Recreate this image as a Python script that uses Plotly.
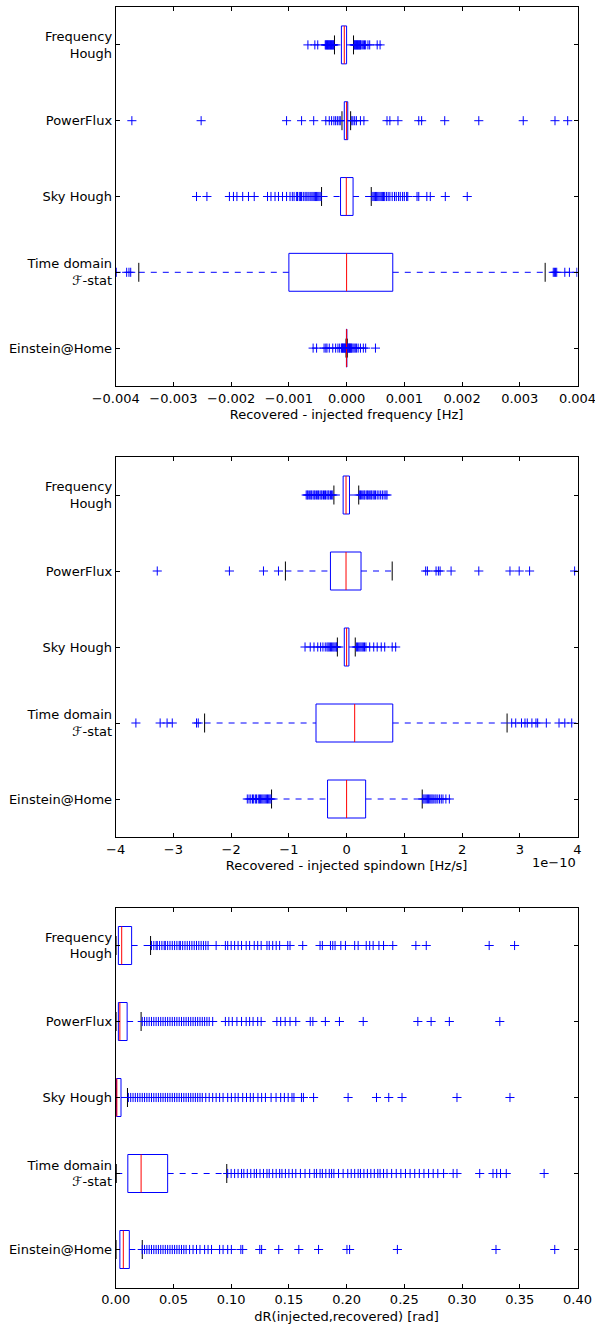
import plotly.graph_objects as go

# ---------------- data ----------------
methods = ["Frequency<br>Hough", "PowerFlux", "Sky Hough", "Time domain<br>\u2131-stat", "Einstein@Home"]

# Panel 1: recovered - injected frequency [Hz]
freq_q1 = [-0.00009, -0.00004, -0.000105, -0.0010, -0.000003]
freq_med = [-0.00004, 0.0, -0.000005, 0.0, 0.0]
freq_q3 = [0.0, 0.00002, 0.000112, 0.0008, 0.000004]
freq_lo = [-0.00021, -0.00008, -0.000434, -0.0036, -0.00001]
freq_hi = [0.00012, 0.00007, 0.000427, 0.00344, 0.000011]
freq_out_fh = [-0.00067, -0.00055, -0.00050, -0.00037, -0.00036, -0.00035, -0.00034, -0.00033, -0.00032,
               -0.00031, -0.00030, -0.00029, -0.00028, -0.00027, -0.00026, -0.00025, -0.00024, -0.00023,
               -0.00022, 0.00013, 0.00014, 0.00015, 0.00016, 0.00017, 0.00018, 0.00019, 0.00020, 0.00021,
               0.00022, 0.00023, 0.00024, 0.00025, 0.00027, 0.00029, 0.00031, 0.00033, 0.00037, 0.00040,
               0.00053, 0.00058]
freq_out_pf = [-0.00372, -0.00252, -0.00104, -0.00078, -0.00057, -0.00036, -0.00030, -0.00026, -0.00022,
               -0.00019, -0.00016, -0.00013, -0.00011, 0.00009, 0.00011, 0.00014, 0.00017, 0.00024, 0.00030,
               0.00070, 0.00075, 0.00089, 0.00125, 0.00130, 0.00170, 0.00229, 0.00306, 0.00361, 0.00383]
freq_out_sh = [-0.00260, -0.00242, -0.00203, -0.00196, -0.00190, -0.00180, -0.00170, -0.00160, -0.00137,
               -0.00131, -0.00124, -0.00118, -0.00111, -0.00104, -0.00098, -0.00094, -0.00091, -0.00087,
               -0.00085, -0.00082, -0.00080, -0.00078, -0.00075, -0.00072, -0.00070, -0.00067, -0.00065,
               -0.00062, -0.00060, -0.00058, -0.00056, -0.00054, -0.00052, -0.00050, -0.00048, -0.00046,
               -0.00044, 0.00044, 0.00046, 0.00048, 0.00050, 0.00052, 0.00054, 0.00056, 0.00058, 0.00060,
               0.00062, 0.00064, 0.00066, 0.00069, 0.00072, 0.00075, 0.00079, 0.00083, 0.00086, 0.00090,
               0.00093, 0.00097, 0.00100, 0.00104, 0.00106, 0.00122, 0.00125, 0.00139, 0.00145, 0.00171,
               0.00209]
freq_out_td = [-0.00399, -0.00381, -0.00377, -0.00374, 0.00358, 0.00360, 0.00362, 0.00364, 0.00378,
               0.00386, 0.00399]
freq_out_eah = [-0.00058, -0.00052, -0.00039, -0.00036, -0.00034, -0.00030, -0.00024, -0.00019, -0.00015,
                -0.00012, -0.00009, -0.00008, -0.00007, -0.00006, -0.00005, -0.00004, -0.00003, -0.00002,
                0.00002, 0.00003, 0.00004, 0.00005, 0.00006, 0.00007, 0.00008, 0.00009, 0.00011, 0.00013,
                0.00015, 0.00017, 0.00020, 0.00024, 0.00029, 0.00033, 0.00050]

# Panel 2: recovered - injected spindown [Hz/s], in units of 1e-10
sd_q1 = [-0.06, -0.28, -0.04, -0.53, -0.33]
sd_med = [-0.01, -0.01, 0.0, 0.14, 0.0]
sd_q3 = [0.05, 0.25, 0.04, 0.80, 0.33]
sd_lo = [-0.22, -1.06, -0.16, -2.46, -1.30]
sd_hi = [0.21, 0.79, 0.15, 2.78, 1.31]
sd_out_fh = [-0.70, -0.68, -0.665, -0.64, -0.62, -0.605, -0.58, -0.56, -0.545, -0.52, -0.50, -0.485,
             -0.46, -0.44, -0.425, -0.40, -0.38, -0.365, -0.34, -0.32, -0.305, -0.28, -0.26, -0.24,
             0.22, 0.24, 0.255, 0.28, 0.30, 0.315, 0.34, 0.36, 0.375, 0.40, 0.42, 0.435, 0.46, 0.48,
             0.50, 0.53, 0.56, 0.59, 0.62, 0.65, 0.68, 0.70]
sd_out_pf = [-3.28, -2.03, -1.44, -1.18, 1.37, 1.40, 1.55, 1.59, 1.62, 1.81, 2.29, 2.83, 2.99, 3.17, 3.95]
sd_out_sh = [-0.72, -0.63, -0.565, -0.50, -0.45, -0.41, -0.37, -0.34, -0.32, -0.30, -0.28, -0.26, -0.24,
             -0.22, -0.20, -0.18, -0.17, 0.17, 0.19, 0.21, 0.23, 0.25, 0.27, 0.29, 0.31, 0.335, 0.40,
             0.47, 0.53, 0.60, 0.66, 0.79, 0.85]
sd_out_td = [-3.65, -3.23, -3.11, -3.02, -2.60, -2.57, 2.86, 2.93, 3.03, 3.09, 3.13, 3.21, 3.28, 3.31,
             3.46, 3.68, 3.78, 3.90]
sd_out_eah = [-1.72, -1.69, -1.66, -1.63, -1.61, -1.58, -1.56, -1.53, -1.51, -1.49, -1.47, -1.45, -1.43,
              -1.41, -1.39, -1.37, -1.35, -1.33, -1.31, 1.32, 1.34, 1.36, 1.38, 1.40, 1.42, 1.44, 1.46,
              1.48, 1.50, 1.53, 1.55, 1.58, 1.61, 1.64, 1.67, 1.72, 1.78]

# Panel 3: dR(injected, recovered) [rad]
dr_q1 = [0.0023, 0.0023, 0.0007, 0.0105, 0.0036]
dr_med = [0.0052, 0.0036, 0.0010, 0.0220, 0.0066]
dr_q3 = [0.0138, 0.0099, 0.0046, 0.0450, 0.0118]
dr_lo = [0.0003, 0.0003, 0.0001, 0.0005, 0.0003]
dr_hi = [0.0302, 0.0220, 0.0102, 0.0962, 0.0230]
dr_out_fh = [0.031, 0.033, 0.035, 0.036, 0.038, 0.040, 0.042, 0.043, 0.045, 0.047, 0.049, 0.051, 0.053,
             0.055, 0.056, 0.058, 0.060, 0.062, 0.064, 0.066, 0.068, 0.070, 0.072, 0.074, 0.076, 0.078,
             0.080, 0.087, 0.095, 0.097, 0.100, 0.103, 0.106, 0.109, 0.113, 0.116, 0.120, 0.123, 0.126,
             0.131, 0.133, 0.136, 0.139, 0.142, 0.149, 0.151, 0.162, 0.177, 0.179, 0.186, 0.188, 0.190,
             0.195, 0.199, 0.207, 0.210, 0.217, 0.220, 0.223, 0.228, 0.232, 0.240, 0.260, 0.269, 0.3235,
             0.3455]
dr_out_pf = [0.023, 0.025, 0.027, 0.029, 0.031, 0.033, 0.035, 0.037, 0.039, 0.041, 0.043, 0.045, 0.047,
             0.049, 0.051, 0.053, 0.055, 0.057, 0.059, 0.061, 0.063, 0.065, 0.067, 0.069, 0.071, 0.073,
             0.075, 0.077, 0.079, 0.081, 0.084, 0.095, 0.098, 0.101, 0.105, 0.109, 0.113, 0.116, 0.119,
             0.123, 0.126, 0.1396, 0.1429, 0.1468, 0.151, 0.156, 0.1685, 0.1708, 0.1816, 0.1938, 0.2144,
             0.2617, 0.2732, 0.289, 0.3327]
dr_out_sh = [0.011, 0.013, 0.015, 0.017, 0.019, 0.021, 0.023, 0.025, 0.027, 0.029, 0.031, 0.033, 0.035,
             0.037, 0.039, 0.041, 0.043, 0.045, 0.047, 0.049, 0.051, 0.053, 0.055, 0.057, 0.059, 0.061,
             0.063, 0.065, 0.067, 0.069, 0.071, 0.073, 0.075, 0.078, 0.081, 0.084, 0.087, 0.090, 0.093,
             0.097, 0.1002, 0.1034, 0.1061, 0.110, 0.1133, 0.1166, 0.1192, 0.1232, 0.1264, 0.1297,
             0.1346, 0.1389, 0.1429, 0.1461, 0.1494, 0.1527, 0.1544, 0.1609, 0.1626, 0.1714, 0.2013,
             0.2259, 0.2365, 0.248, 0.2956, 0.3415]
dr_out_td = [0.097, 0.100, 0.103, 0.106, 0.109, 0.111, 0.114, 0.117, 0.120, 0.122, 0.125, 0.128, 0.131,
             0.133, 0.136, 0.139, 0.142, 0.144, 0.147, 0.150, 0.153, 0.156, 0.160, 0.164, 0.168, 0.172,
             0.174, 0.177, 0.179, 0.182, 0.185, 0.187, 0.189, 0.193, 0.197, 0.201, 0.204, 0.207, 0.210,
             0.212, 0.215, 0.218, 0.221, 0.224, 0.227, 0.229, 0.232, 0.235, 0.239, 0.243, 0.247, 0.251,
             0.255, 0.259, 0.263, 0.267, 0.271, 0.275, 0.279, 0.284, 0.2923, 0.2956, 0.3153, 0.3268,
             0.3300, 0.3333, 0.3383, 0.3711]
dr_out_eah = [0.023, 0.025, 0.027, 0.029, 0.031, 0.033, 0.035, 0.037, 0.039, 0.041, 0.043, 0.045, 0.047,
              0.049, 0.051, 0.053, 0.055, 0.057, 0.059, 0.061, 0.064, 0.067, 0.070, 0.073, 0.077, 0.080,
              0.083, 0.090, 0.093, 0.097, 0.1002, 0.1084, 0.110, 0.1248, 0.1264, 0.1412, 0.1586, 0.1757,
              0.2003, 0.2026, 0.244, 0.3294, 0.3803]

freq_ticks = [-0.004, -0.003, -0.002, -0.001, 0.0, 0.001, 0.002, 0.003, 0.004]
sd_ticks = [-4, -3, -2, -1, 0, 1, 2, 3, 4]
dr_ticks = [0.0, 0.05, 0.10, 0.15, 0.20, 0.25, 0.30, 0.35, 0.40]

# ---------------- styling ----------------
BLUE = "#0000ff"
RED = "#ff0000"
FONT = "DejaVu Sans"
FS = 13
BW = 0.25   # box half height
CW = 0.125  # cap half height

fig = go.Figure()


def add_panel(q1, med, q3, lo, hi, outs, xa, ya):
    bx, by, mx, my, wx, wy, cx, cy, ox, oy = [], [], [], [], [], [], [], [], [], []
    for i in range(len(q1)):
        p = i + 1
        bx += [q1[i], q3[i], q3[i], q1[i], q1[i], None]
        by += [p - BW, p - BW, p + BW, p + BW, p - BW, None]
        mx += [med[i], med[i], None]
        my += [p - BW, p + BW, None]
        wx += [lo[i], q1[i], None, q3[i], hi[i], None]
        wy += [p, p, None, p, p, None]
        cx += [lo[i], lo[i], None, hi[i], hi[i], None]
        cy += [p - CW, p + CW, None, p - CW, p + CW, None]
        ox += outs[i]
        oy += [p] * len(outs[i])
    common = dict(xaxis=xa, yaxis=ya, showlegend=False, hoverinfo="skip", mode="lines")
    fig.add_trace(go.Scatter(x=wx, y=wy, line=dict(color=BLUE, width=1, dash="6px,6px"), **common))
    fig.add_trace(go.Scatter(x=bx, y=by, line=dict(color=BLUE, width=1), **common))
    fig.add_trace(go.Scatter(x=cx, y=cy, line=dict(color="black", width=1), **common))
    fig.add_trace(go.Scatter(x=mx, y=my, line=dict(color=RED, width=1), **common))
    fig.add_trace(go.Scatter(x=ox, y=oy, mode="markers", xaxis=xa, yaxis=ya, showlegend=False,
                             hoverinfo="skip",
                             marker=dict(symbol="cross-thin", size=6.5, color=BLUE,
                                         line=dict(color=BLUE, width=1))))


add_panel(freq_q1, freq_med, freq_q3, freq_lo, freq_hi,
          [freq_out_fh, freq_out_pf, freq_out_sh, freq_out_td, freq_out_eah], "x", "y")
add_panel(sd_q1, sd_med, sd_q3, sd_lo, sd_hi,
          [sd_out_fh, sd_out_pf, sd_out_sh, sd_out_td, sd_out_eah], "x2", "y2")
add_panel(dr_q1, dr_med, dr_q3, dr_lo, dr_hi,
          [dr_out_fh, dr_out_pf, dr_out_sh, dr_out_td, dr_out_eah], "x3", "y3")

H = 1328.0
W = 595.0
xdom = [115.7 / W, 577.5 / W]
panels_px = [(7, 386), (457, 837), (907.5, 1287.5)]
ydoms = [[1 - b / H, 1 - t / H] for (t, b) in panels_px]

axis_common = dict(showline=True, linecolor="black", linewidth=1, mirror="ticks", ticks="inside",
                   ticklen=4, tickwidth=1, tickcolor="black", showgrid=False, zeroline=False,
                   tickfont=dict(family=FONT, size=FS, color="black"), automargin=False,
                   ticklabeloverflow="allow")

xtitles = ["Recovered - injected frequency [Hz]", "Recovered - injected spindown [Hz/s]",
           "dR(injected,recovered) [rad]"]
xranges = [[-0.004, 0.004], [-4, 4], [0.0, 0.40]]
xticks = [freq_ticks, sd_ticks, dr_ticks]
xfmts = [".3f", "d", ".2f"]

layout = dict(width=595, height=1328, margin=dict(l=0, r=0, t=0, b=0), paper_bgcolor="white",
              plot_bgcolor="white", font=dict(family=FONT, size=FS, color="black"))
for k in range(3):
    sx = "" if k == 0 else str(k + 1)
    layout["xaxis" + sx] = dict(domain=xdom, range=xranges[k], tickvals=xticks[k], tickformat=xfmts[k],
                                anchor="y" + sx,
                                title=dict(text=xtitles[k], font=dict(family=FONT, size=FS),
                                           standoff=5),
                                **axis_common)
    layout["yaxis" + sx] = dict(domain=ydoms[k], range=[5.5, 0.5], tickvals=[1, 2, 3, 4, 5],
                                ticktext=methods, anchor="x" + sx, **axis_common)

fig.update_layout(**layout)
fig.add_annotation(text="1e\u221210", xref="paper", yref="paper", x=578 / W, y=1 - 862 / H,
                   xanchor="right", yanchor="middle", showarrow=False,
                   font=dict(family=FONT, size=FS, color="black"))

fig.write_html("out.html", config={"displayModeBar": False},
               post_script="document.body.style.margin='0px';")
